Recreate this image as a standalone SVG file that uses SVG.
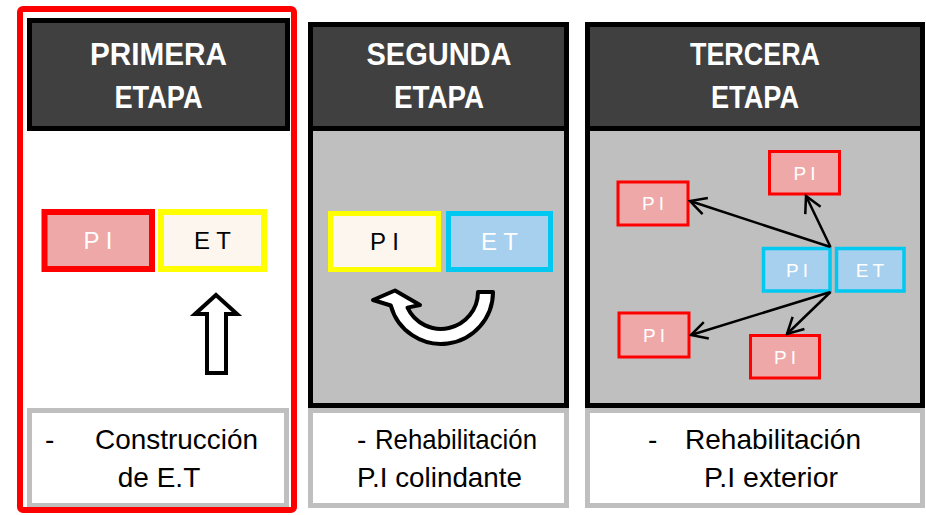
<svg xmlns="http://www.w3.org/2000/svg" width="926" height="515" viewBox="0 0 926 515">
<style>
.hdr{fill:#404040;stroke:#000;stroke-width:5}
.body{fill:#bfbfbf;stroke:#000;stroke-width:5}
.tbox{fill:#fff;stroke:#bfbfbf;stroke-width:5}
.ht{font-family:"Liberation Sans",Arial,sans-serif;font-weight:bold;font-size:32px;fill:#fff;text-anchor:middle}
.bt{font-family:"Liberation Sans",Arial,sans-serif;font-size:28px;fill:#000}
.lb{font-family:"Liberation Sans",Arial,sans-serif;font-size:24px;text-anchor:middle}
.ls{font-family:"Liberation Sans",Arial,sans-serif;font-size:19px;fill:#fff;letter-spacing:4px}
.pired{fill:#efa8a8;stroke:#ff0000}
.pibl{fill:#a6d0ee;stroke:#00c8f0}
.piye{fill:#fdf6ee;stroke:#ffff00}
.conn{stroke:#000;stroke-width:2.5;fill:none}
</style>
<defs>
<marker id="open" viewBox="0 0 20 20" markerWidth="20" markerHeight="20" refX="18" refY="10" orient="auto" markerUnits="userSpaceOnUse">
<path d="M2,1.5 L18,10 L2,18.5" fill="none" stroke="#000" stroke-width="2.5"/>
</marker>
</defs>
<rect width="926" height="515" fill="#fff"/>

<g id="col1">
<rect class="hdr" x="29.5" y="20.5" width="258" height="108"/>
<text class="ht" x="158.5" y="65" textLength="137" lengthAdjust="spacingAndGlyphs">PRIMERA</text>
<text class="ht" x="158.5" y="108" textLength="88" lengthAdjust="spacingAndGlyphs">ETAPA</text>
<rect class="tbox" x="29.5" y="410.5" width="257" height="95"/>
<text class="bt" y="449"><tspan x="45">-</tspan><tspan x="95" textLength="163" lengthAdjust="spacingAndGlyphs">Construcción</tspan></text>
<text class="bt" x="159" y="487" text-anchor="middle">de E.T</text>
<rect x="20" y="9" width="274" height="501" rx="3" fill="none" stroke="#ff0000" stroke-width="6"/>
</g>

<g id="col1-pi">
<rect class="pired" x="44.5" y="212" width="107.5" height="57" stroke-width="6"/>
<text class="lb" x="98" y="249" fill="#fff">P I</text>
</g>
<g id="col1-et">
<rect class="piye" x="161" y="212" width="103" height="57" stroke-width="6"/>
<text class="lb" x="212.5" y="249" fill="#000">E T</text>
</g>
<g id="col1-arrow">
<path d="M216,295 L237,314 L226,314 L226,373 L207,373 L207,314 L195,314 Z" fill="#fff" stroke="#000" stroke-width="4"/>
</g>

<g id="col2">
<rect class="body" x="310.5" y="128.5" width="256" height="277"/>
<rect class="hdr" x="310.5" y="24.5" width="256" height="104"/>
<text class="ht" x="439" y="65" textLength="145" lengthAdjust="spacingAndGlyphs">SEGUNDA</text>
<text class="ht" x="439" y="108" textLength="90" lengthAdjust="spacingAndGlyphs">ETAPA</text>
<rect class="tbox" x="310.5" y="410.5" width="256" height="95"/>
<text class="bt" y="449"><tspan x="357">- </tspan><tspan x="375" textLength="162" lengthAdjust="spacingAndGlyphs">Rehabilitación</tspan></text>
<text class="bt" x="357" y="487" textLength="165" lengthAdjust="spacingAndGlyphs">P.I colindante</text>
</g>
<g id="col2-pi">
<rect class="piye" x="330.5" y="213.5" width="108" height="56" stroke-width="5"/>
<text class="lb" x="384.5" y="250" fill="#000">P I</text>
</g>
<g id="col2-et">
<rect class="pibl" x="448.5" y="213.5" width="102" height="56" stroke-width="5"/>
<text class="lb" x="499.5" y="250" fill="#fff">E T</text>
</g>
<g id="col2-arrow">
<path d="M390.8,305.5 L373,300 L395,290.5 L420,305 L407.5,307.6 A37,37 0 0 0 478,292 L493,292 A52,52 0 0 1 390.8,305.5 Z" fill="#fff" stroke="#000" stroke-width="4" stroke-linejoin="round"/>
</g>

<g id="col3">
<rect class="body" x="587.5" y="128.5" width="335" height="277"/>
<rect class="hdr" x="587.5" y="24.5" width="335" height="104"/>
<text class="ht" x="755" y="65" textLength="130" lengthAdjust="spacingAndGlyphs">TERCERA</text>
<text class="ht" x="755" y="108" textLength="88" lengthAdjust="spacingAndGlyphs">ETAPA</text>
<rect class="tbox" x="587.5" y="410.5" width="335" height="95"/>
<text class="bt" y="449"><tspan x="648">-</tspan><tspan x="685" textLength="176" lengthAdjust="spacingAndGlyphs">Rehabilitación</tspan></text>
<text class="bt" x="704" y="487" textLength="134" lengthAdjust="spacingAndGlyphs">P.I exterior</text>
</g>

<g id="c3-center-pi">
<rect class="pibl" x="763.5" y="248.5" width="66.5" height="42.5" stroke-width="3.5"/>
<text class="ls" x="799" y="276.5" text-anchor="middle">PI</text>
</g>
<g id="c3-center-et">
<rect class="pibl" x="836.5" y="248.5" width="67.5" height="42.5" stroke-width="3.5"/>
<text class="ls" x="872" y="276.5" text-anchor="middle">ET</text>
</g>
<g id="c3-pi-tl">
<rect class="pired" x="618" y="182" width="70" height="43" stroke-width="3"/>
<text class="ls" x="655" y="210.3" text-anchor="middle">PI</text>
</g>
<g id="c3-pi-tr">
<rect class="pired" x="769.5" y="151.5" width="70" height="42.5" stroke-width="3"/>
<text class="ls" x="806.5" y="179.5" text-anchor="middle">PI</text>
</g>
<g id="c3-pi-bl">
<rect class="pired" x="619" y="313" width="70" height="44" stroke-width="3"/>
<text class="ls" x="656" y="341.8" text-anchor="middle">PI</text>
</g>
<g id="c3-pi-br">
<rect class="pired" x="750.5" y="335.5" width="69" height="42.5" stroke-width="3"/>
<text class="ls" x="787" y="363.5" text-anchor="middle">PI</text>
</g>

<g id="connectors">
<line class="conn" x1="830.5" y1="247" x2="690" y2="201" marker-end="url(#open)"/>
<line class="conn" x1="830.5" y1="247" x2="806" y2="196" marker-end="url(#open)"/>
<line class="conn" x1="830.5" y1="292" x2="691" y2="335" marker-end="url(#open)"/>
<line class="conn" x1="830.5" y1="292" x2="787" y2="334" marker-end="url(#open)"/>
</g>
</svg>
